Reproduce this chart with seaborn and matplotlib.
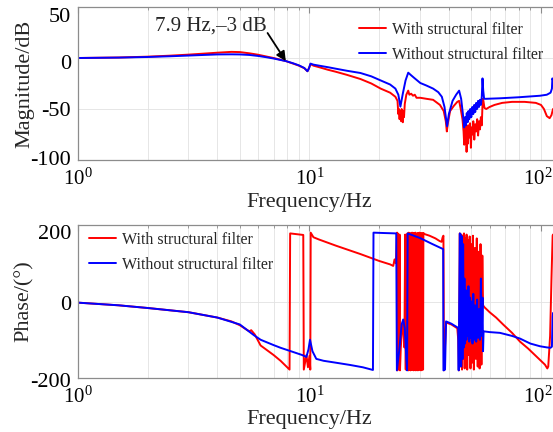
import matplotlib
matplotlib.use("Agg")
import matplotlib.pyplot as plt
import matplotlib.transforms as mtransforms
import seaborn as sns
import pandas as pd
from matplotlib.ticker import LogLocator, FixedLocator, LogFormatterSciNotation, NullFormatter

# ---------------- data ----------------
mag_red_f = [1.0, 1.5, 2.0, 2.5, 3.0, 3.5, 4.0, 4.6, 5.0, 5.5, 6.0, 6.5, 7.0, 7.9, 8.5, 9.0, 9.5, 9.8, 9.95,
             10.1, 10.4, 11.0, 12.0, 13.0, 14.5, 16.6, 18.5, 20.3, 22.3, 23.5, 24.0,
             24.2, 24.35, 24.5, 24.6, 24.75, 24.9, 25.0, 25.15, 25.3, 25.45, 25.6, 25.8, 26.2, 26.7,
             27.0, 27.5, 28.0, 28.5, 29.0, 30.1, 32.0, 34.2, 36.6, 38.0, 38.8, 39.2, 39.6, 40.5, 42.0,
             43.5, 44.3, 45.0, 45.8, 46.3,
             46.6, 46.9, 47.2, 47.5, 47.7, 48.0, 48.3, 48.6, 49.0, 49.4, 49.8, 50.2, 50.6, 51.0, 51.5,
             52.0, 52.5, 53.0, 53.5, 54.0, 54.5, 55.0, 55.5, 56.0, 56.4, 57.0, 58.0, 60.0, 63.0, 68.0,
             75.0, 85.0, 95.0, 100.0, 103.0, 106.0, 109.0, 111.0, 112.7]
mag_red_db = [0.0, 0.5, 1.3, 2.3, 3.3, 4.3, 5.2, 6.0, 5.8, 4.6, 3.2, 1.5, 0.0, -3.0, -5.5, -7.5, -10.0, -13.0, -10.0,
              -6.0, -7.5, -9.0, -11.5, -13.5, -16.5, -20.6, -25.0, -30.0, -34.0, -38.0, -42.0,
              -55, -50, -60, -52, -58, -62, -50, -57, -63, -52, -58, -45, -36, -32,
              -36, -35, -37, -36, -39, -39, -40, -41, -46, -52, -62, -72, -64, -52, -47,
              -43, -42, -50, -60, -72,
              -85, -68, -80, -65, -92, -70, -84, -66, -78, -64, -88, -68, -75, -62, -80,
              -65, -72, -60, -76, -62, -70, -58, -66, -40, -42, -49, -50, -48, -46, -44,
              -43, -43, -44, -46, -50, -57, -59, -56, -50]

mag_blue_f = [1.0, 1.5, 2.0, 2.5, 3.0, 3.5, 4.0, 4.6, 5.0, 5.5, 6.0, 6.5, 7.0, 7.9, 8.5, 9.0, 9.5, 9.8, 9.95,
              10.1, 10.4, 11.0, 12.0, 13.0, 14.5, 16.6, 18.5, 20.3, 22.3, 23.5, 24.2, 24.7, 25.3, 26.0,
              26.7, 27.5, 28.5, 30.1, 32.0, 34.2, 36.0, 37.3, 38.3, 39.3, 40.0, 41.5, 43.0, 44.3, 45.2,
              46.0, 46.6,
              47.0, 47.4, 47.8, 48.2, 48.6, 49.0, 49.5, 50.0, 50.5, 51.0, 51.5, 52.0, 52.5, 53.0, 53.5,
              54.0, 54.5, 55.0, 55.5, 55.9, 56.3, 56.8, 58.0, 66.5, 80.0, 99.0, 106.0, 110.0, 111.5,
              112.0, 112.7]
mag_blue_db = [0.0, 0.4, 1.0, 1.7, 2.4, 3.0, 3.5, 3.6, 3.5, 3.0, 2.0, 0.8, -0.5, -3.0, -5.2, -7.2, -9.8, -13.0, -10.0,
               -5.5, -6.5, -7.5, -9.0, -10.5, -12.5, -14.7, -18.0, -22.0, -26.0, -30.0, -36, -47.7, -35, -22,
               -14.4, -17, -20, -24.5, -27, -30, -33.5, -38, -48, -67, -55, -42, -36, -32, -40,
               -55, -68,
               -58, -66, -54, -63, -52, -60, -50, -58, -48, -55, -46, -53, -44, -50, -42,
               -48, -41, -46, -38, -20, -32, -40, -40, -39.5, -38.5, -37, -36, -34, -30,
               -20, -22]

ph_red_f = [1.0, 1.5, 2.0, 3.0, 4.0, 4.6, 5.0, 5.3, 5.5, 5.6, 5.8, 6.15, 7.0, 7.5, 8.2,
            8.25, 9.4, 9.45, 9.7, 9.85, 10.0, 10.08, 10.12, 10.4, 11.0, 13.0, 16.6, 20.0, 22.3, 23.0,
            23.3, 23.6, 23.9, 23.95, 24.05, 24.15, 24.25, 24.35, 24.5, 24.6, 24.8, 25.1, 25.4, 25.7,
            25.9, 26.05, 26.2, 26.35, 26.5,
            26.7, 26.85, 27.0, 27.15, 27.3, 27.45, 27.6, 27.75, 27.9, 28.05, 28.2, 28.35, 28.5, 28.65,
            28.8, 28.95, 29.1, 29.25, 29.4, 29.55, 29.7, 29.85, 30.0, 30.15, 30.3, 30.45, 30.6, 30.8,
            30.95, 31.05,
            31.5, 33.0, 35.0, 36.5, 37.2, 37.6, 37.9, 38.1, 38.6, 38.9, 41.0, 43.5, 43.9, 44.2, 44.6,
            45.0, 45.3, 45.6, 45.9, 46.2, 46.5, 46.8, 47.1, 47.4, 47.7, 48.0, 48.4, 48.8, 49.2, 49.6,
            50.0, 50.4, 50.8, 51.3, 51.8, 52.3, 52.8, 53.3, 53.8, 54.3, 54.8, 55.3, 55.8,
            56.2, 57.0, 60.0, 64.0, 68.6, 75.0, 81.2, 88.0, 94.2, 100.0, 104.0, 106.5, 107.5, 109.5,
            111.0, 112.3, 112.7]
ph_red_deg = [-3, -10, -17, -28, -42, -52, -62, -72, -78, -75, -86, -115, -140, -155, -178,
              178, 174, -178, -140, -172, -142, -178, 180, 168, 162, 146, 124, 106, 97, 93,
              110, 100, 180, -180, 178, -175, 170, -178, 175, -180, -120, -75, -60, -120,
              175, -178, 172, -176, 178,
              -180, 180, -178, 179, -180, 178, -179, 180, -178, 179, -180, 178, -179, 180,
              -180, 177, -178, 179, -180, 178, -179, 180, -178, 178, -180, 179, -179, 178,
              -178, 179,
              176, 172, 165, 158, 156, 168, 172, -180, -100, -55, -60, -70, -100, -180, 178,
              -170, 175, -178, 170, -150, 178, -175, 165, -160, 175, -178, 160, -140, 170, -175,
              150, -160, 172, -178, 140, -150, 165, -170, 130, -175, 150, -165, 120,
              -10, -15, -28, -42, -60, -82, -105, -123, -140, -155, -165, -175, -170, -90,
              60, 172, 175]

ph_blue_f = [1.0, 1.5, 2.0, 3.0, 4.0, 5.0, 5.75, 6.15, 7.0, 7.5, 8.5, 9.3, 9.7, 9.9, 10.05, 10.3,
             10.7, 11.5, 13.0, 15.0, 17.0, 18.8, 18.9, 21.0, 23.7, 23.85, 24.5, 25.0, 25.4, 25.8,
             26.2, 26.4, 26.55, 30.0, 34.0, 37.8, 37.9, 38.5, 38.9, 41.0, 43.9, 44.1, 44.6, 45.0,
             45.2, 45.5, 45.8, 46.1, 46.4, 46.7, 47.0, 47.3, 47.6, 47.9, 48.2, 48.6, 49.0, 49.4,
             49.8, 50.2, 50.6, 51.0, 51.5, 52.0, 52.5, 53.0, 53.5, 54.0, 54.5, 55.0, 55.5, 55.9,
             56.2, 56.5, 60.0, 66.5, 75.0, 81.2, 90.0, 99.0, 106.0, 110.0, 111.5, 112.3, 112.7]
ph_blue_deg = [-3, -10, -17, -28, -42, -60, -88, -100, -114, -121, -132, -140, -145, -125, -100, -130,
               -150, -155, -160, -166, -172, -179, 180, 179, 178, -180, -120, -60, -47, -70,
               -150, -180, 178, 166, 150, 137, -180, -178, -52, -58, -69, -180, 178, 175,
               -170, 170, -150, 150, -120, 60, -110, 30, -100, 20, -90, 40, -105, 10,
               -95, 0, -110, 20, -100, -10, -105, 5, -95, -20, -100, 60, -90, 10,
               -130, -78, -80, -82, -90, -97, -110, -117, -120, -121, -118, -40, -30]

legend_labels = ["With structural filter", "Without structural filter"]
mag_ticks = [-100, -50, 0, 50]
ph_ticks = [-200, 0, 200]

# ---------------- styling ----------------
sns.set_style("white")
plt.rcParams["font.family"] = ["Liberation Serif", "DejaVu Serif"]
plt.rcParams["mathtext.fontset"] = "custom"
plt.rcParams["mathtext.rm"] = "Liberation Serif"
plt.rcParams["mathtext.default"] = "regular"
plt.rcParams["axes.unicode_minus"] = False

RED = "#ff0000"
BLUE = "#0000ff"
LW = 1.4
W, H = 553, 432

fig = plt.figure(figsize=(W / 100, H / 100), dpi=100)
ax1 = fig.add_axes([78 / W, 1 - 160 / H, (W - 78) / W, 153 / H])
ax2 = fig.add_axes([78 / W, 1 - 378 / H, (W - 78) / W, 153 / H])

df_mr = pd.DataFrame({"f": mag_red_f, "v": mag_red_db})
df_mb = pd.DataFrame({"f": mag_blue_f, "v": mag_blue_db})
df_pr = pd.DataFrame({"f": ph_red_f, "v": ph_red_deg})
df_pb = pd.DataFrame({"f": ph_blue_f, "v": ph_blue_deg})

for ax, dr, db in [(ax1, df_mr, df_mb), (ax2, df_pr, df_pb)]:
    sns.lineplot(data=dr, x="f", y="v", ax=ax, color=RED, lw=LW, sort=False,
                 estimator=None, label=legend_labels[0])
    sns.lineplot(data=db, x="f", y="v", ax=ax, color=BLUE, lw=LW, sort=False,
                 estimator=None, label=legend_labels[1])
    ax.set_xscale("log")
    ax.set_xlim(1, 112.7)
    ax.xaxis.set_major_locator(FixedLocator([1, 10, 100]))
    ax.xaxis.set_major_formatter(LogFormatterSciNotation())
    ax.xaxis.set_minor_locator(LogLocator(base=10, subs=[2, 3, 4, 5, 6, 7, 8, 9], numticks=20))
    ax.xaxis.set_minor_formatter(NullFormatter())
    ax.grid(True, which="both", axis="x", color="#e2e2e2", lw=0.6)
    ax.grid(True, which="major", axis="y", color="#e2e2e2", lw=0.6)
    ax.set_axisbelow(True)
    for s in ["left", "bottom", "top"]:
        ax.spines[s].set_color("#8c8c8c")
        ax.spines[s].set_linewidth(0.9)
    ax.spines["right"].set_visible(False)
    ax.tick_params(axis="both", which="both", direction="in", top=True, right=False,
                   color="#8c8c8c", labelsize=16, labelcolor="black")
    ax.tick_params(axis="x", which="major", length=4, pad=6, labelsize=15)
    ax.tick_params(axis="x", which="minor", length=2)
    ax.tick_params(axis="y", which="major", length=3, pad=5)

ax1.set_ylim(-100, 50)
ax1.set_yticks(mag_ticks)
ax2.set_ylim(-200, 200)
ax2.set_yticks(ph_ticks)

ax1.set_xlabel("Frequency/Hz", fontsize=16)
ax2.set_xlabel("Frequency/Hz", fontsize=16)
ax1.set_ylabel("Magnitude/dB", fontsize=16)
ax2.set_ylabel("Phase/(°)", fontsize=16)
ax1.xaxis.set_label_coords(0.486, -0.215)
ax2.xaxis.set_label_coords(0.486, -0.21)
ax1.yaxis.set_label_coords(-0.092, 0.5)
ax2.yaxis.set_label_coords(-0.092, 0.5)

# annotation
ax1.annotate("", xy=(7.9, -3), xytext=(6.59, 24.5),
             arrowprops=dict(arrowstyle="-|>", color="black", lw=1.3, mutation_scale=14,
                             shrinkA=0, shrinkB=0))
ax1.text(3.74, 31.5, "7.9 Hz,\u20133 dB", fontsize=15, ha="center", va="center")

# legends
for ax, (lx, ly) in [(ax1, (359, 22)), (ax2, (89, 232))]:
    ax.legend(loc="upper left", bbox_to_anchor=(lx / W, 1 - ly / H),
              bbox_transform=fig.transFigure, frameon=False, fontsize=11.5,
              handlelength=1.7, handletextpad=0.35, labelspacing=0.55,
              borderpad=0, borderaxespad=0)

# tick label offsets as in the reference (px)
fig.canvas.draw()
offsets = [(ax1, {50: 8, 0: 4, -50: 0, -100: -2}), (ax2, {200: 7, 0: 1, -200: 2})]
for ax, offs in offsets:
    for tick in ax.yaxis.get_major_ticks():
        dy = offs.get(int(round(tick.get_loc())), 0)
        lab = tick.label1
        lab.set_transform(lab.get_transform()
                          + mtransforms.ScaledTranslation(0, -dy / 100, fig.dpi_scale_trans))
    for tick in ax.xaxis.get_major_ticks():
        if abs(tick.get_loc() - 100) < 1e-6:
            lab = tick.label1
            lab.set_transform(lab.get_transform()
                              + mtransforms.ScaledTranslation(-3 / 100, 0, fig.dpi_scale_trans))

fig.savefig("out.png", dpi=100)
